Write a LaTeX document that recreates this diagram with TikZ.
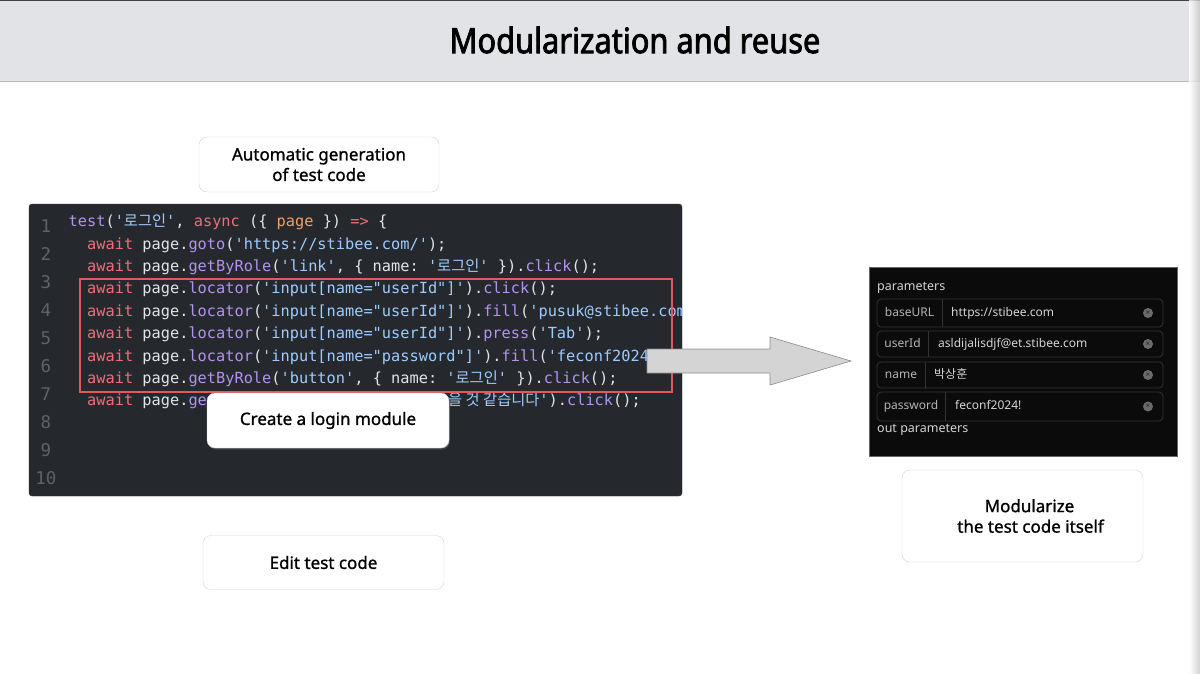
\documentclass[tikz,border=0pt]{standalone}
\usepackage{fontspec}
\setmainfont{Noto Sans}
\setmonofont{DejaVu Sans Mono}
\newfontfamily\cjk{Noto Sans CJK KR}
\newfontfamily\titlefont{Noto Sans}[FakeStretch=0.88, FakeBold=2.2]
\newfontfamily\notefont{Noto Sans}[FakeBold=1.1]
\usetikzlibrary{shadows}

\definecolor{headbg}{HTML}{E1E3E7}
\definecolor{codebg}{HTML}{25292E}
\definecolor{lnum}{HTML}{5C636B}
\definecolor{cTxt}{HTML}{E1E4E8}
\definecolor{cKw}{HTML}{EC6F7A}
\definecolor{cFn}{HTML}{B392F0}
\definecolor{cStr}{HTML}{9ECBFF}
\definecolor{cVar}{HTML}{F0A066}
\definecolor{hlred}{HTML}{E5575A}
\definecolor{boxline}{HTML}{D3D3D3}
\definecolor{arrowfill}{HTML}{D4D4D4}
\definecolor{parambg}{HTML}{0C0B0B}
\definecolor{paramline}{HTML}{343232}
\definecolor{paramtxt}{HTML}{D4D4D4}

% code tokens
\newcommand\ckw[1]{\textcolor{cKw}{#1}}
\newcommand\cfn[1]{\textcolor{cFn}{#1}}
\newcommand\cstr[1]{\textcolor{cStr}{#1}}
\newcommand\cvar[1]{\textcolor{cVar}{#1}}

\begin{document}
\begin{tikzpicture}[x=1pt,y=-1pt]
\tikzstyle{note}=[
	draw=boxline, fill=white, rounded corners=8pt,
	align=center, text=black, font=\notefont\fontsize{17}{20.5}\selectfont ]
\tikzstyle{codeline}=[
	anchor=base west, inner sep=0pt, text=cTxt,
	font=\ttfamily\fontsize{15.3}{18}\selectfont ]
\tikzstyle{linenum}=[
	anchor=base, inner sep=0pt, text=lnum,
	font=\ttfamily\fontsize{17.5}{20}\selectfont ]
\tikzstyle{paramrow}=[draw=paramline, line width=0.8pt]
\tikzstyle{paramtext}=[
	inner sep=0pt, text=paramtxt, text height=9pt, text depth=2.5pt,
	font=\fontsize{12}{14}\selectfont ]

\useasboundingbox (0,0) rectangle (1200,673);
\fill[white] (0,0) rectangle (1200,673);

% header
\fill[headbg] (0,0) rectangle (1200,81);
\draw[gray!55] (0,81) -- (1200,81);
\draw[black!75, line width=1.5pt] (0,0.7) -- (1200,0.7);
\node[font=\titlefont\fontsize{35}{38}\selectfont] (title) at (635,40) {Modularization and reuse};

% code panel
\node[note] (autogen) at (319,164.5) [minimum width=240pt, minimum height=55pt] {Automatic generation\\ of test code};
\node[draw=black!80, fill=codebg, rounded corners=3pt, minimum width=653pt, minimum height=292pt, inner sep=0pt] (code) at (355.5,350) {};

\foreach \n in {1,...,10}
	\node[linenum] (ln\n) at (46,{232+28*(\n-1)}) {\n};

\begin{scope}
\clip (30,205) rectangle (681,495);
\node[codeline] (c1) at (68.5,226.5) {\cfn{test}(\cstr{'{\cjk 로그인}'}, \ckw{async} (\{ \cvar{page} \}) \ckw{=>} \{};
\node[codeline] (c2) at (87,249) {\ckw{await} page.\cfn{goto}(\cstr{'https://stibee.com/'});};
\node[codeline] (c3) at (87,271.4) {\ckw{await} page.\cfn{getByRole}(\cstr{'link'}, \{ name: \cstr{'{\cjk 로그인}'} \}).\cfn{click}();};
\node[codeline] (c4) at (87,293.8) {\ckw{await} page.\cfn{locator}(\cstr{'input[name="userId"]'}).\cfn{click}();};
\node[codeline] (c5) at (87,316.2) {\ckw{await} page.\cfn{locator}(\cstr{'input[name="userId"]'}).\cfn{fill}(\cstr{'pusuk@stibee.com'});};
\node[codeline] (c6) at (87,338.6) {\ckw{await} page.\cfn{locator}(\cstr{'input[name="userId"]'}).\cfn{press}(\cstr{'Tab'});};
\node[codeline] (c7) at (87,361) {\ckw{await} page.\cfn{locator}(\cstr{'input[name="password"]'}).\cfn{fill}(\cstr{'feconf2024!'});};
\node[codeline] (c8) at (87,383.4) {\ckw{await} page.\cfn{getByRole}(\cstr{'button'}, \{ name: \cstr{'{\cjk 로그인}'} \}).\cfn{click}();};
\node[codeline] (c9) at (87,405.8) {\ckw{await} page.\cfn{ge}};
\node[codeline, anchor=base east] (c9b) at (641,405.8) {\cstr{{\cjk 을 것 같습니다}'}).\cfn{click}();};
\end{scope}

% highlighted lines
\draw[hlred, line width=2pt] (80,279) rectangle (672,392);

\node[note, drop shadow={opacity=0.3, shadow xshift=1pt, shadow yshift=-1.5pt}] (login) at (328,420.5) [minimum width=242pt, minimum height=55pt] {Create a login module};
\node[note] (edit) at (323.5,562.5) [minimum width=241pt, minimum height=54pt] {Edit test code};

% arrow
\filldraw[fill=arrowfill, draw=black!45, line width=0.6pt]
	(647,349) -- (770,349) -- (770,337) -- (851,361) -- (770,385) -- (770,373) -- (647,373) -- cycle;

% parameters panel
\node[fill=parambg, draw=black!60, minimum width=308pt, minimum height=189pt, inner sep=0pt] (params) at (1023,361.5) {};
\node[paramtext, anchor=west, font=\fontsize{12.5}{14}\selectfont] (ptitle) at (877,287) {parameters};
\foreach \lab/\val/\t/\b/\sep/\vx in {baseURL/{https://stibee.com}/299/327/942/951,
	userId/{asldijalisdjf@et.stibee.com}/331/357/928/938,
	name/{\cjk 박상훈}/362/388/925/934,
	password/{feconf2024!}/392/421/945/955}
{
	\draw[paramrow, rounded corners=4pt] (877,\t) rectangle (1163,\b);
	\draw[paramrow] (\sep,\t) -- (\sep,\b);
	\node[paramtext, text=paramtxt!85!black] (lab-\lab) at ({(877+\sep)/2},{(\t+\b)/2}) {\lab};
	\node[paramtext, anchor=west] (val-\lab) at (\vx,{(\t+\b)/2}) {\val};
	\node[circle, fill=black!58, inner sep=0pt, minimum size=10pt, text=black!85, font=\fontsize{8}{8}\selectfont] (clr-\lab) at (1148,{(\t+\b)/2}) {×};
}
\node[paramtext, anchor=west, font=\fontsize{12.5}{14}\selectfont] (pout) at (877,429) {out parameters};

\node[note] (modular) at (1022.5,516) [minimum width=241pt, minimum height=92pt] {\hspace*{14pt}Modularize\\ \hspace*{16pt}the test code itself};

% page edge
\shade[left color=white, right color=black!22, opacity=0.8] (1189,0) rectangle (1200,673);
\end{tikzpicture}
\end{document}
